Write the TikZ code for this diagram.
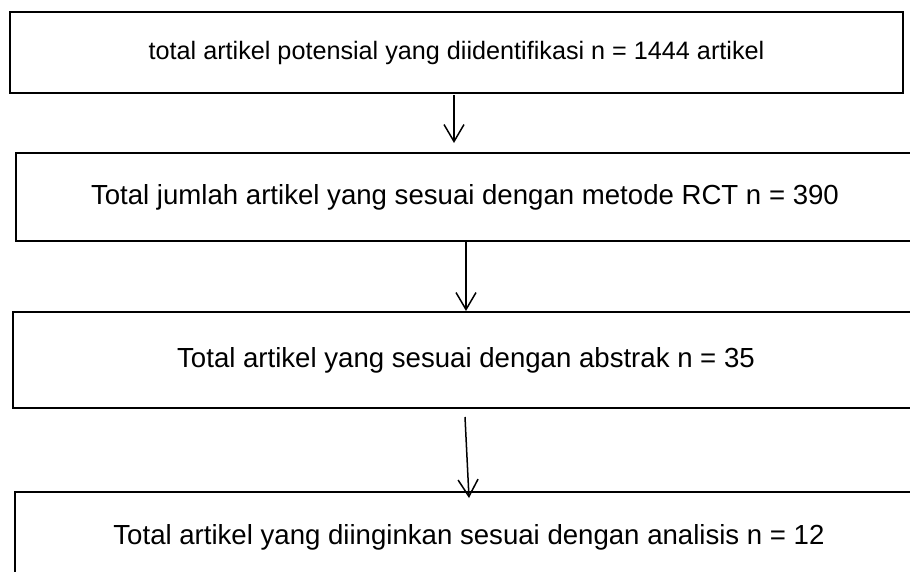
\documentclass[tikz,border=0pt]{standalone}
\usepackage{fontspec}
\setmainfont{Liberation Sans}
\usetikzlibrary{arrows.meta}
\begin{document}
\begin{tikzpicture}[x=1pt,y=-1pt,
  box/.style={draw=black, line width=2pt, rectangle, inner sep=0pt, anchor=center},
  flow/.style={draw=black, line width=1.5pt, -{Straight Barb[length=17pt,width=20pt,line width=1.5pt]}}]
\useasboundingbox (0,0) rectangle (910,571);
\clip (0,0) rectangle (910,571);
\fill[white] (0,0) rectangle (910,571);
\node[box, minimum width=893pt, minimum height=81pt] (b1) at (456.5,52.5)
  {\fontsize{25.2}{30}\selectfont total artikel potensial yang diidentifikasi n = 1444 artikel};
\node[box, minimum width=898pt, minimum height=88pt] (b2) at (465,197)
  {\fontsize{27.6}{33}\selectfont Total jumlah artikel yang sesuai dengan metode RCT n = 390};
\node[box, minimum width=906pt, minimum height=96pt] (b3) at (466,360)
  {\fontsize{27.6}{33}\selectfont Total artikel yang sesuai dengan abstrak n = 35};
\node[box, minimum width=908pt, minimum height=90pt] (b4) at (469,537)
  {\fontsize{27.6}{33}\selectfont Total artikel yang diinginkan sesuai dengan analisis n = 12};
\coordinate (a1s) at (454,95);
\coordinate (a1e) at (454,143);
\coordinate (a3s) at (465,417);
\coordinate (a3e) at (469,498);
\draw[flow] (a1s) -- (a1e);
\draw[flow] (b2.south -| 466,0) -- (b3.north -| 466,0);
\draw[flow] (a3s) -- (a3e);
\end{tikzpicture}
\end{document}
